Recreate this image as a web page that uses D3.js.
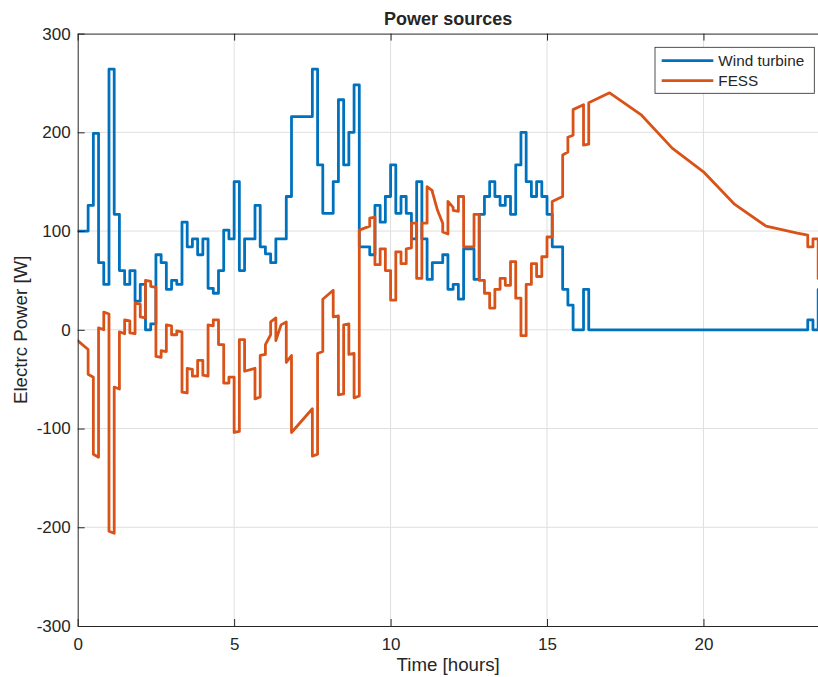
<!DOCTYPE html>
<html>
<head>
<meta charset="utf-8">
<script src="https://cdn.jsdelivr.net/npm/d3@7"></script>
<style>
  body { margin: 0; background: #fff; }
  svg { display: block; }
  text { font-family: "Liberation Sans", Arial, Helvetica, sans-serif; fill: #262626; }
</style>
</head>
<body>
<svg id="chart" width="818" height="677"></svg>
<script>
// Wind turbine output, one value per 10-minute interval (held until the next sample)
const stepMinutes = 10;
const windPower = [
  100, 100, 126, 199, 68, 46, 264, 117, 60, 46,
  60, 29, 46, 0, 6, 76, 68, 41, 50, 46,
  109, 84, 92, 76, 92, 42, 37, 60, 101, 92,
  150, 60, 92, 92, 126, 84, 77, 68, 92, 92,
  135, 216, 216, 216, 216, 264, 167, 118, 118, 150,
  233, 167, 200, 248, 84, 84, 76, 126, 109, 135,
  167, 118, 135, 118, 92, 150, 92, 51, 68, 68,
  76, 41, 46, 31, 82, 82, 51, 117, 135, 150,
  135, 126, 135, 117, 167, 200, 150, 135, 150, 135,
  117, 84, 84, 41, 25, 0, 0, 41, 0, 0,
  0, 0, 0, 0, 0, 0, 0, 0, 0, 0,
  0, 0, 0, 0, 0, 0, 0, 0, 0, 0,
  0, 0, 0, 0, 0, 0, 0, 0, 0, 0,
  0, 0, 0, 0, 0, 0, 0, 0, 0, 0,
  10, 0, 41
];

// Flywheel storage power: breakpoints (minutes, watts)
const fessMinutes = [
  0, 20, 20, 30, 30, 40, 40, 50, 50, 60,
  60, 70, 70, 80, 80, 90, 90, 100, 100, 110,
  110, 120, 120, 130, 130, 140, 140, 150, 150, 160,
  160, 170, 170, 180, 180, 190, 190, 200, 200, 210,
  210, 220, 220, 230, 230, 240, 240, 250, 250, 260,
  260, 270, 270, 280, 280, 290, 290, 300, 300, 310,
  310, 320, 320, 340, 340, 350, 350, 360, 360, 370,
  370, 380, 380, 390, 400, 400, 410, 410, 450, 450,
  460, 460, 470, 470, 490, 490, 500, 500, 510, 510,
  520, 520, 530, 530, 540, 540, 560, 560, 570, 570,
  580, 580, 590, 590, 600, 600, 610, 610, 620, 620,
  630, 630, 640, 640, 650, 650, 660, 660, 670, 670,
  680, 680, 690, 700, 700, 710, 710, 720, 720, 730,
  730, 740, 740, 760, 760, 770, 770, 780, 780, 790,
  790, 800, 800, 810, 810, 820, 820, 830, 830, 840,
  840, 850, 850, 860, 860, 870, 870, 880, 880, 890,
  890, 900, 900, 910, 910, 930, 930, 940, 940, 950,
  950, 970, 970, 980, 980, 1020, 1080, 1140, 1200, 1260,
  1320, 1380, 1400, 1400, 1410, 1410, 1420, 1420
];
const fessPower = [
  -11, -20, -45, -48, -126, -129, 2, 0, 18, 16,
  -204, -206, -58, -60, -2, -4, 10, 9, -3, -4,
  27, 26, 13, 12, 50, 49, 44, 43, -27, -28,
  -21, -22, 5, 4, -5, -5, -1, -2, -63, -64,
  -39, -40, -47, -47, -31, -31, -46, -47, 5, 4,
  10, 10, -15, -15, -54, -54, -48, -48, -104, -103,
  -10, -10, -42, -39, -70, -68, -26, -25, -15, -5,
  8, 12, -11, 5, 8, -33, -26, -104, -80, -128,
  -126, -24, -22, 31, 40, 13, 14, -66, -65, 5,
  6, -25, -24, -69, -67, 101, 105, 113, 114, 66,
  66, 82, 82, 60, 60, 30, 30, 79, 79, 67,
  67, 82, 83, 108, 108, 52, 52, 108, 108, 145,
  141, 140, 121, 108, 99, 97, 130, 124, 121, 120,
  135, 135, 84, 84, 117, 117, 50, 50, 37, 37,
  22, 22, 41, 41, 52, 52, 45, 45, 69, 69,
  32, 32, -6, -6, 46, 46, 67, 67, 54, 54,
  74, 74, 94, 94, 130, 135, 177, 180, 195, 197,
  223, 228, 187, 188, 230, 240, 218, 184, 160, 127,
  105, 98, 96, 84, 84, 92, 92, 52
];

const xTicks = [0, 5, 10, 15, 20];
const yTicks = [-300, -200, -100, 0, 100, 200, 300];
const seriesNames = ["Wind turbine", "FESS"];
const seriesColors = ["#0072BD", "#D95319"];

const svg = d3.select("#chart");
const plot = { left: 77.7, right: 818.6, top: 33.6, bottom: 626 };

const x = d3.scaleLinear().domain([0, 23.68]).range([plot.left, plot.right]);
const y = d3.scaleLinear().domain([-300, 300]).range([plot.bottom, plot.top]);

const windData = windPower.map((p, i) => ({ h: i * stepMinutes / 60, p }));
const fessData = fessMinutes.map((m, i) => ({ h: m / 60, p: fessPower[i] }));

svg.append("defs").append("clipPath").attr("id", "plot-clip")
  .append("rect")
  .attr("x", plot.left).attr("y", plot.top)
  .attr("width", plot.right - plot.left).attr("height", plot.bottom - plot.top);

// grid
const grid = svg.append("g").attr("stroke", "#dfdfdf").attr("stroke-width", 1);
grid.selectAll("line.v").data(xTicks.slice(1)).join("line")
  .attr("x1", d => x(d)).attr("x2", d => x(d))
  .attr("y1", plot.top).attr("y2", plot.bottom);
grid.selectAll("line.h").data(yTicks.slice(1, -1)).join("line")
  .attr("x1", plot.left).attr("x2", plot.right)
  .attr("y1", d => y(d)).attr("y2", d => y(d));

// series
const lines = svg.append("g").attr("clip-path", "url(#plot-clip)")
  .attr("fill", "none").attr("stroke-width", 2.8)
  .attr("stroke-linejoin", "round").attr("stroke-linecap", "round");

lines.append("path").datum(windData)
  .attr("stroke", seriesColors[0])
  .attr("d", d3.line().x(d => x(d.h)).y(d => y(d.p)).curve(d3.curveStepAfter));

lines.append("path").datum(fessData)
  .attr("stroke", seriesColors[1])
  .attr("d", d3.line().x(d => x(d.h)).y(d => y(d.p)));

// axes (plain hyphen for negative labels)
const plainNumber = d => String(d);
const tickLen = 7;
const xAxisBottom = d3.axisBottom(x).tickValues(xTicks).tickFormat(plainNumber)
  .tickSizeInner(-tickLen).tickSizeOuter(0).tickPadding(12);
const xAxisTop = d3.axisTop(x).tickValues(xTicks).tickSizeInner(-tickLen).tickSizeOuter(0).tickFormat("");
const yAxisLeft = d3.axisLeft(y).tickValues(yTicks).tickFormat(plainNumber)
  .tickSizeInner(-tickLen).tickSizeOuter(0).tickPadding(7);

function styleAxis(g) {
  g.select(".domain").attr("stroke", "#262626").attr("stroke-width", 1);
  g.selectAll(".tick line").attr("stroke", "#262626").attr("stroke-width", 1);
  g.selectAll(".tick text").attr("fill", "#262626")
    .style("font-size", "17px").style("font-family", '"Liberation Sans", Arial, Helvetica, sans-serif');
}

svg.append("g").attr("transform", `translate(0,${plot.bottom})`).call(xAxisBottom).call(styleAxis);
svg.append("g").attr("transform", `translate(0,${plot.top})`).call(xAxisTop).call(styleAxis);
svg.append("g").attr("transform", `translate(${plot.left},0)`).call(yAxisLeft).call(styleAxis);

// titles
const cx = (plot.left + plot.right) / 2;
svg.append("text").attr("x", cx).attr("y", 25)
  .attr("text-anchor", "middle").style("font-size", "18px").style("font-weight", "bold")
  .text("Power sources");
svg.append("text").attr("x", cx).attr("y", 671)
  .attr("text-anchor", "middle").style("font-size", "18.7px")
  .text("Time [hours]");
svg.append("text").attr("transform", `translate(27,${(plot.top + plot.bottom) / 2}) rotate(-90)`)
  .attr("text-anchor", "middle").style("font-size", "18.7px")
  .text("Electrc Power [W]");

// legend
const legend = svg.append("g").attr("transform", "translate(655,47.3)");
legend.append("rect").attr("width", 159.3).attr("height", 46)
  .attr("fill", "#fff").attr("stroke", "#262626").attr("stroke-width", 0.8);
const entries = legend.selectAll("g.entry").data(seriesNames).join("g")
  .attr("transform", (d, i) => `translate(0,${13.4 + i * 20})`);
entries.append("line").attr("x1", 6.7).attr("x2", 58.3)
  .attr("stroke", (d, i) => seriesColors[i]).attr("stroke-width", 2.8);
entries.append("text").attr("x", 63.3).attr("dy", "0.35em")
  .style("font-size", "15.3px").text(d => d);
</script>
</body>
</html>
